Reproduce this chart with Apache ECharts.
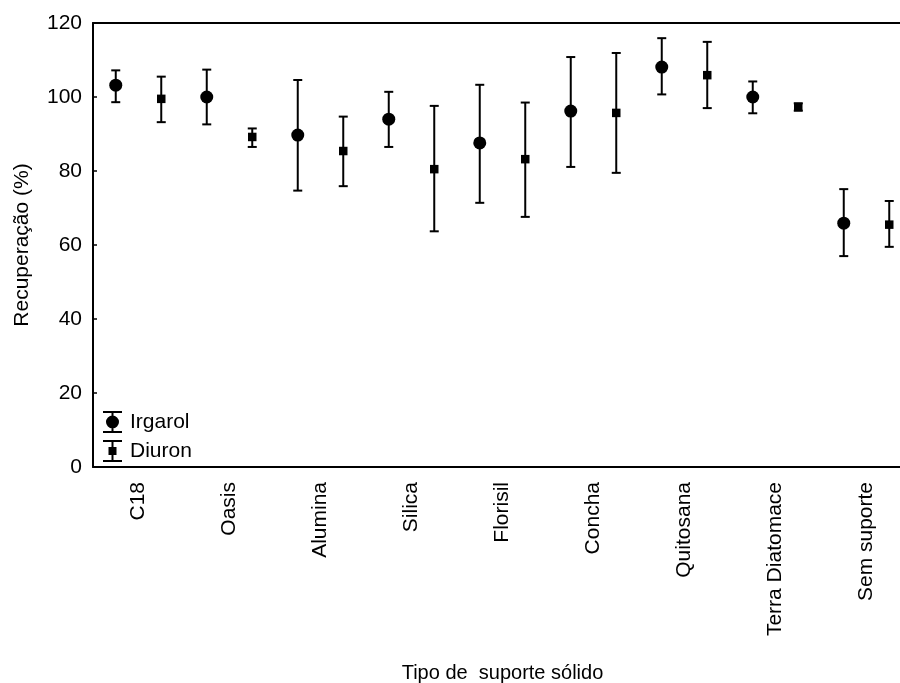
<!DOCTYPE html>
<html>
<head>
<meta charset="utf-8">
<script src="https://cdn.jsdelivr.net/npm/echarts@6/dist/echarts.min.js"></script>
<style>
html,body{margin:0;padding:0;background:#fff;}
#chart{width:900px;height:683px;}
</style>
</head>
<body>
<div id="chart"></div>
<script>
var categories = ['C18','Oasis','Alumina','Silica','Florisil','Concha','Quitosana','Terra Diatomace','Sem suporte'];
var irgarolMean = [103.2, 100.0, 89.7, 94.0, 87.6, 96.2, 108.1, 100.0, 65.9];
var irgarolLow  = [98.6, 92.6, 74.7, 86.5, 71.4, 81.1, 100.7, 95.6, 57.0];
var irgarolHigh = [107.2, 107.4, 104.6, 101.4, 103.3, 110.8, 115.9, 104.2, 75.1];
var diuronMean = [99.5, 89.2, 85.4, 80.5, 83.2, 95.7, 105.9, 97.3, 65.5];
var diuronLow  = [93.2, 86.5, 75.9, 63.7, 67.6, 79.5, 97.0, 96.3, 59.5];
var diuronHigh = [105.5, 91.5, 94.7, 97.6, 98.5, 111.9, 114.9, 98.3, 71.9];
var yTicks = [0, 20, 40, 60, 80, 100, 120];

var FONT = 'Liberation Sans, Arial, sans-serif';

function buildData(mean, low, high) {
  return categories.map(function (c, i) { return [i, mean[i], low[i], high[i]]; });
}

function makeRender(offsetFrac, shape) {
  return function (params, api) {
    var idx = api.value(0);
    var band = api.size([1, 0])[0];
    var c = api.coord([idx, api.value(1)]);
    var lo = api.coord([idx, api.value(2)]);
    var hi = api.coord([idx, api.value(3)]);
    var x = c[0] + offsetFrac * band;
    var cap = 4.5;
    var ls = { stroke: '#000', lineWidth: 2 };
    var children = [
      { type: 'line', shape: { x1: x, y1: lo[1], x2: x, y2: hi[1] }, style: ls },
      { type: 'line', shape: { x1: x - cap, y1: lo[1], x2: x + cap, y2: lo[1] }, style: ls },
      { type: 'line', shape: { x1: x - cap, y1: hi[1], x2: x + cap, y2: hi[1] }, style: ls }
    ];
    if (shape === 'circle') {
      children.push({ type: 'circle', shape: { cx: x, cy: c[1], r: 6.5 }, style: { fill: '#000' } });
    } else {
      children.push({ type: 'rect', shape: { x: x - 4.25, y: c[1] - 4.25, width: 8.5, height: 8.5 }, style: { fill: '#000' } });
    }
    return { type: 'group', children: children };
  };
}

var iconIrgarol = 'path://M0,0H19V2H0Z M0,20H19V22H0Z M8.5,2H10.5V20H8.5Z M3,11A6.5,6.5 0 1,1 16,11A6.5,6.5 0 1,1 3,11Z';
var iconDiuron = 'path://M0,0H19V2H0Z M0,20H19V22H0Z M8.5,2H10.5V20H8.5Z M5.5,7H13.5V15H5.5Z';

var chart = echarts.init(document.getElementById('chart'));
chart.setOption({
  backgroundColor: '#fff',
  animation: false,
  textStyle: { fontFamily: FONT, color: '#000' },
  grid: { left: 93, right: -12, top: 23, bottom: 216, containLabel: false, outerBoundsMode: 'none' },
  legend: {
    orient: 'vertical',
    left: 103, top: 411,
    padding: 0,
    itemGap: 7,
    itemWidth: 19, itemHeight: 22,
    textStyle: { fontSize: 21, color: '#000', fontFamily: FONT, padding: [0, 0, 0, 3] },
    data: [
      { name: 'Irgarol', icon: iconIrgarol },
      { name: 'Diuron', icon: iconDiuron }
    ]
  },
  xAxis: [
    {
      type: 'category', data: categories, position: 'bottom',
      boundaryGap: true,
      axisLine: { lineStyle: { color: '#000', width: 2 } },
      axisTick: { inside: true, alignWithLabel: true, length: 4, lineStyle: { color: '#000', width: 1.5 } },
      axisLabel: { rotate: 90, margin: 15, fontSize: 21, color: '#000', fontFamily: FONT, interval: 0 },
      splitLine: { show: false },
      name: 'Tipo de  suporte sólido', nameLocation: 'middle', nameGap: 196,
      nameTextStyle: { fontSize: 20, color: '#000', fontFamily: FONT }
    },
    {
      type: 'category', data: categories, position: 'top',
      boundaryGap: true,
      axisLine: { lineStyle: { color: '#000', width: 2 } },
      axisTick: { inside: true, alignWithLabel: true, length: 4, lineStyle: { color: '#000', width: 1.5 } },
      axisLabel: { show: false },
      splitLine: { show: false }
    }
  ],
  yAxis: {
    type: 'value', min: 0, max: 120, interval: 20,
    axisLine: { show: true, lineStyle: { color: '#000', width: 2 } },
    axisTick: { show: true, inside: true, length: 4, lineStyle: { color: '#000', width: 1.5 } },
    axisLabel: { fontSize: 21, color: '#000', margin: 11, fontFamily: FONT,
      formatter: function (v) { return yTicks.indexOf(v) >= 0 ? String(v) : ''; } },
    splitLine: { show: false },
    name: 'Recuperação (%)', nameLocation: 'middle', nameGap: 60,
    nameTextStyle: { fontSize: 21, color: '#000', fontFamily: FONT }
  },
  series: [
    {
      name: 'Irgarol', type: 'custom', xAxisIndex: 0, yAxisIndex: 0,
      itemStyle: { color: '#000' },
      renderItem: makeRender(-0.25, 'circle'),
      encode: { x: 0, y: [1, 2, 3] },
      data: buildData(irgarolMean, irgarolLow, irgarolHigh)
    },
    {
      name: 'Diuron', type: 'custom', xAxisIndex: 0, yAxisIndex: 0,
      itemStyle: { color: '#000' },
      renderItem: makeRender(0.25, 'square'),
      encode: { x: 0, y: [1, 2, 3] },
      data: buildData(diuronMean, diuronLow, diuronHigh)
    }
  ]
});
</script>
</body>
</html>
